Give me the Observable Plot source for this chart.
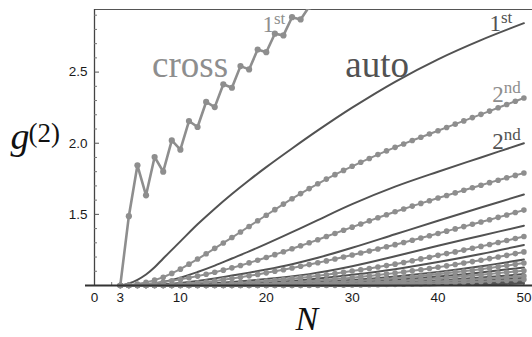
<!DOCTYPE html>
<html>
<head>
<meta charset="utf-8">
<script src="https://cdn.jsdelivr.net/npm/d3@7"></script>
<script src="https://cdn.jsdelivr.net/npm/@observablehq/plot@0.6"></script>
<style>
  html, body { margin: 0; padding: 0; background: #fff; }
  svg { display: block; }
</style>
</head>
<body>
<div id="chart"></div>
<script>
// ---------- data ----------
// integer N for the dotted (cross) series
const Ns = [3,4,5,6,7,8,9,10,11,12,13,14,15,16,17,18,19,20,21,22,23,24,25,26,27,28,29,30,31,32,33,34,35,36,37,38,39,40,41,42,43,44,45,46,47,48,49,50];

// 1st cross correlation (zig-zag)
const cross1N = [3,4,5,6,7,8,9,10,11,12,13,14,15,16,17,18,19,20,21,22,23,24,25];
const cross1G = [1.0,1.487,1.845,1.634,1.903,1.80,2.02,1.955,2.156,2.114,2.29,2.254,2.414,2.39,2.542,2.519,2.659,2.64,2.77,2.758,2.886,2.87,2.96];

// higher cross correlations (dotted), values at N = 3..50
const cross2 = [1.000,1.003,1.010,1.022,1.038,1.058,1.085,1.115,1.150,1.186,1.223,1.261,1.299,1.337,1.376,1.415,1.455,1.494,1.533,1.572,1.610,1.646,1.681,1.715,1.748,1.779,1.809,1.838,1.866,1.893,1.920,1.946,1.971,1.995,2.019,2.042,2.065,2.088,2.111,2.134,2.157,2.180,2.203,2.226,2.249,2.272,2.295,2.318];
const cross3 = [1.000,1.001,1.004,1.009,1.016,1.024,1.033,1.043,1.054,1.066,1.079,1.093,1.108,1.124,1.141,1.159,1.178,1.197,1.217,1.237,1.258,1.279,1.300,1.322,1.344,1.366,1.388,1.410,1.432,1.454,1.476,1.497,1.518,1.538,1.558,1.577,1.596,1.615,1.633,1.651,1.669,1.687,1.705,1.723,1.740,1.757,1.774,1.791];
const cross4 = [1.000,1.000,1.000,1.001,1.002,1.004,1.007,1.010,1.014,1.019,1.025,1.032,1.040,1.049,1.058,1.068,1.078,1.089,1.100,1.111,1.123,1.135,1.147,1.160,1.173,1.186,1.200,1.214,1.228,1.242,1.257,1.272,1.287,1.302,1.318,1.334,1.350,1.366,1.382,1.398,1.414,1.430,1.446,1.462,1.479,1.496,1.513,1.530];
const cross5 = [1,1,1,1,1,1,1.001,1.002,1.003,1.005,1.007,1.009,1.012,1.015,1.019,1.023,1.027,1.032,1.037,1.042,1.048,1.054,1.060,1.068,1.076,1.084,1.093,1.102,1.111,1.120,1.130,1.140,1.150,1.162,1.174,1.187,1.199,1.212,1.224,1.236,1.249,1.262,1.275,1.288,1.302,1.316,1.330,1.344];
const cross6 = [1,1,1,1,1,1,1,1,1,1,1.001,1.002,1.003,1.005,1.007,1.009,1.011,1.013,1.016,1.019,1.023,1.026,1.030,1.035,1.040,1.045,1.050,1.055,1.061,1.067,1.074,1.080,1.087,1.095,1.103,1.111,1.119,1.128,1.138,1.148,1.158,1.168,1.178,1.189,1.200,1.212,1.224,1.236];
const cross7 = [1,1,1,1,1,1,1,1,1,1,1,1,1,1.001,1.002,1.003,1.004,1.005,1.007,1.009,1.011,1.013,1.015,1.018,1.021,1.024,1.027,1.030,1.034,1.038,1.042,1.046,1.051,1.056,1.061,1.067,1.073,1.079,1.086,1.093,1.100,1.107,1.115,1.123,1.131,1.140,1.149,1.158];
const cross8 = [1,1,1,1,1,1,1,1,1,1,1,1,1,1,1,1,1,1.001,1.002,1.003,1.004,1.005,1.006,1.008,1.010,1.012,1.013,1.015,1.018,1.021,1.024,1.027,1.030,1.034,1.038,1.042,1.046,1.050,1.055,1.060,1.065,1.070,1.075,1.081,1.087,1.093,1.098,1.104];
const cross9 = [1,1,1,1,1,1,1,1,1,1,1,1,1,1,1,1,1,1,1,1,1,1.001,1.002,1.003,1.004,1.005,1.0065,1.008,1.010,1.011,1.013,1.015,1.017,1.019,1.021,1.024,1.026,1.029,1.032,1.035,1.038,1.041,1.045,1.049,1.053,1.057,1.061,1.066];
const cross10 = [1,1,1,1,1,1,1,1,1,1,1,1,1,1,1,1,1,1,1,1,1,1,1,1,1,1.001,1.002,1.003,1.004,1.005,1.006,1.007,1.008,1.009,1.011,1.012,1.014,1.016,1.018,1.020,1.022,1.024,1.027,1.030,1.033,1.036,1.039,1.042];

// auto correlations (smooth solid curves), read at sample N
const auto1N = [3,4,5,6,7,8,10,12,14,16,18,20,23,26,30,35,40,45,50];
const auto1G = [1.0,1.015,1.04,1.077,1.128,1.19,1.31,1.43,1.54,1.643,1.74,1.832,1.963,2.09,2.25,2.432,2.59,2.725,2.844];
const auto2N = [3,4,6,8,10,12,14,16,18,20,23,26,30,35,40,45,50];
const auto2G = [1,1.0,1.008,1.025,1.055,1.095,1.14,1.19,1.24,1.293,1.375,1.46,1.572,1.695,1.80,1.90,2.00];
const auto3N = [3,6,8,10,12,14,16,18,20,23,26,30,35,40,45,50];
const auto3G = [1,1.002,1.008,1.018,1.032,1.05,1.07,1.09,1.112,1.15,1.195,1.265,1.36,1.455,1.548,1.64];
const auto4N = [3,8,10,12,16,20,25,30,35,40,45,50];
const auto4G = [1,1.0,1.004,1.01,1.025,1.045,1.08,1.135,1.205,1.28,1.35,1.42];
const auto5N = [3,10,15,20,25,30,35,40,45,50];
const auto5G = [1,1.0,1.008,1.02,1.042,1.075,1.115,1.165,1.222,1.285];
const auto6N = [3,12,20,25,30,35,40,45,50];
const auto6G = [1,1.0,1.008,1.02,1.038,1.063,1.095,1.135,1.183];
const auto7N = [3,14,20,25,30,35,40,45,50];
const auto7G = [1,1.0,1.003,1.01,1.022,1.04,1.063,1.092,1.127];
const auto8N = [3,16,25,30,35,40,45,50];
const auto8G = [1,1.0,1.004,1.01,1.021,1.036,1.056,1.08];
const auto9N = [3,20,30,35,40,45,50];
const auto9G = [1,1.0,1.005,1.012,1.022,1.036,1.053];
const auto10N = [3,24,30,35,40,45,50];
const auto10G = [1,1.0,1.002,1.006,1.013,1.023,1.036];
const auto11N = [3,28,35,40,45,50];
const auto11G = [1,1.0,1.003,1.007,1.014,1.024];
const auto12N = [3,32,40,45,50];
const auto12G = [1,1.0,1.003,1.007,1.014];

// ticks
const xTickLabels = [0,3,10,20,30,40,50];
const xMajorTicks = [10,20,30,40,50];
const xMinorTicks = [2,4,6,8,12,14,16,18,22,24,26,28,32,34,36,38,42,44,46,48];
const yTickLabels = [1.5,2.0,2.5];
const yMinorTicks = [1.1,1.2,1.3,1.4,1.6,1.7,1.8,1.9,2.1,2.2,2.3,2.4,2.6,2.7,2.8,2.9];
const yTop = 2.94;

// ---------- build tables ----------
const autoSets = [[auto1N,auto1G],[auto2N,auto2G],[auto3N,auto3G],[auto4N,auto4G],[auto5N,auto5G],[auto6N,auto6G],[auto7N,auto7G],[auto8N,auto8G],[auto9N,auto9G],[auto10N,auto10G],[auto11N,auto11G],[auto12N,auto12G]];
const autoRows = autoSets.flatMap(([n, g], k) => n.map((v, i) => ({s: k + 1, N: v, g: g[i]})));
const crossSets = [cross2,cross3,cross4,cross5,cross6,cross7,cross8,cross9,cross10];
const crossRows = crossSets.flatMap((g, k) => Ns.map((v, i) => ({s: k + 2, N: v, g: g[i]})));
const cross1Rows = cross1N.map((v, i) => ({N: v, g: cross1G[i]}));

const DARK = "#525252";
const GRAY = "#8e8e8e";
const serif = "'Liberation Serif', 'Times New Roman', serif";
const sans = "'Liberation Sans', Arial, sans-serif";

const chart = Plot.plot({
  width: 532,
  height: 337,
  marginLeft: 94,
  marginRight: 0,
  marginTop: 9,
  marginBottom: 52,
  x: {domain: [0, 51], axis: null},
  y: {domain: [1, yTop], axis: null},
  style: {fontFamily: sans, fontSize: "13px", color: "#1a1a1a", background: "#fff"},
  marks: [
    // frame lines
    Plot.ruleY([yTop], {stroke: "#555", strokeWidth: 1.2}),
    Plot.ruleX([0], {stroke: "#444", strokeWidth: 1.3}),
    // inward ticks
    Plot.axisY(yTickLabels, {tickSize: 5, dx: 5, tickFormat: () => "", label: null, stroke: "#555"}),
    Plot.axisY(yMinorTicks, {tickSize: 3, dx: 3, tickFormat: () => "", label: null, stroke: "#777"}),
    Plot.axisX(xMajorTicks, {tickSize: 5, dy: -5, tickFormat: () => "", label: null, stroke: "#555"}),
    Plot.axisX(xMinorTicks, {tickSize: 3, dy: -3, tickFormat: () => "", label: null, stroke: "#777"}),
    // tick labels
    Plot.text(yTickLabels, {frameAnchor: "left", y: d => d, dx: -7, textAnchor: "end", lineAnchor: "middle", text: d3.format(".1f"), fontFamily: sans, fontSize: 13.5, fill: "#1a1a1a"}),
    Plot.text(xTickLabels, {x: d => d, frameAnchor: "bottom", dy: 7, textAnchor: "middle", lineAnchor: "top", text: d => String(d), fontFamily: sans, fontSize: 13.5, fill: "#1a1a1a"}),
    // auto curves
    Plot.line(autoRows, {x: "N", y: "g", z: "s", stroke: DARK, strokeWidth: 2, curve: "catmull-rom"}),
    // cross curves (dotted)
    Plot.line(crossRows, {x: "N", y: "g", z: "s", stroke: GRAY, strokeWidth: 2}),
    Plot.dot(crossRows, {x: "N", y: "g", r: 2.8, fill: GRAY, stroke: "none"}),
    // 1st cross
    Plot.line(cross1Rows, {x: "N", y: "g", stroke: GRAY, strokeWidth: 2.6, clip: true}),
    Plot.dot(cross1Rows, {x: "N", y: "g", r: 3.1, fill: GRAY, stroke: "none", clip: true}),
    // x axis line
    Plot.ruleY([1], {stroke: "#333", strokeWidth: 2, insetLeft: -9}),
    // annotations
    Plot.text(["cross"], {x: 11.12, y: 2.464, textAnchor: "middle", lineAnchor: "bottom", fontFamily: serif, fontSize: 37, fill: GRAY}),
    Plot.text(["auto"], {x: 32.9, y: 2.469, textAnchor: "middle", lineAnchor: "bottom", fontFamily: serif, fontSize: 37, fill: DARK}),
    Plot.text(["1"], {x: 20.9, y: 2.78, textAnchor: "end", lineAnchor: "bottom", fontFamily: serif, fontSize: 23, fill: GRAY}),
    Plot.text(["st"], {x: 20.9, y: 2.78, dy: -8, textAnchor: "start", lineAnchor: "bottom", fontFamily: serif, fontSize: 17, fill: GRAY}),
    Plot.text(["1"], {x: 47.33, y: 2.792, textAnchor: "end", lineAnchor: "bottom", fontFamily: serif, fontSize: 23, fill: DARK}),
    Plot.text(["st"], {x: 47.33, y: 2.792, dy: -8, textAnchor: "start", lineAnchor: "bottom", fontFamily: serif, fontSize: 17, fill: DARK}),
    Plot.text(["2"], {x: 47.66, y: 2.288, textAnchor: "end", lineAnchor: "bottom", fontFamily: serif, fontSize: 23, fill: GRAY}),
    Plot.text(["nd"], {x: 47.66, y: 2.288, dy: -9, textAnchor: "start", lineAnchor: "bottom", fontFamily: serif, fontSize: 17, fill: GRAY}),
    Plot.text(["2"], {x: 47.66, y: 1.961, textAnchor: "end", lineAnchor: "bottom", fontFamily: serif, fontSize: 23, fill: DARK}),
    Plot.text(["nd"], {x: 47.66, y: 1.961, dy: -9, textAnchor: "start", lineAnchor: "bottom", fontFamily: serif, fontSize: 17, fill: DARK}),
    // axis titles
    Plot.text(["g"], {x: -9.78, y: 1.956, textAnchor: "start", lineAnchor: "bottom", fontFamily: serif, fontStyle: "italic", fontSize: 38, fill: "#111"}),
    Plot.text(["(2)"], {x: -7.68, y: 2.009, textAnchor: "start", lineAnchor: "bottom", fontFamily: serif, fontSize: 27, fill: "#111"}),
    Plot.text(["N"], {x: 23.4, y: 0.688, textAnchor: "start", lineAnchor: "bottom", fontFamily: serif, fontStyle: "italic", fontSize: 34, fill: "#111"})
  ]
});
document.getElementById("chart").appendChild(chart);
</script>
</body>
</html>
